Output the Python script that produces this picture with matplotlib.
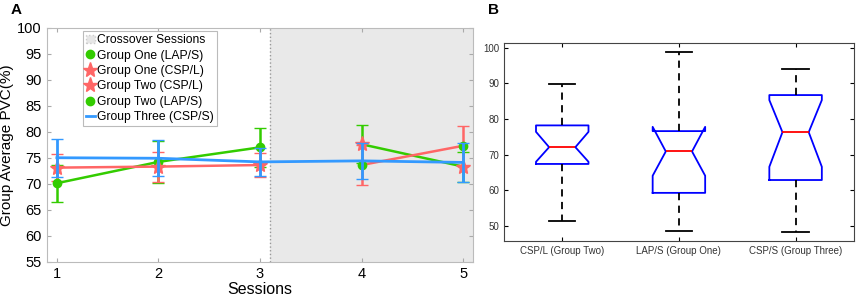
import matplotlib
matplotlib.use('Agg')
import matplotlib.pyplot as plt
from matplotlib.patches import Patch
from matplotlib.lines import Line2D

plt.rcParams['font.family'] = ['Liberation Sans', 'DejaVu Sans']

# ---- panel A data ----
sessions = [1, 2, 3, 4, 5]
pre = [1, 2, 3]
post = [4, 5]
g1_pre = [70.1, 74.2, 77.0]      # group one, LAP/S
g1_pre_err = [3.6, 4.0, 3.7]
g2_pre = [73.1, 73.3, 73.6]      # group two, CSP/L
g2_pre_err = [2.55, 2.9, 2.4]
g1_post = [77.6, 73.3]           # group one, CSP/L
g1_post_err = [3.7, 2.9]
g2_post = [73.6, 77.3]           # group two, LAP/S
g2_post_err = [3.85, 3.8]
g3 = [75.0, 74.9, 74.2, 74.4, 74.1]  # group three, CSP/S
g3_err = [3.7, 3.5, 2.7, 3.5, 3.7]
crossover_start = 3.1

# ---- panel B data ----
box_labels = ['CSP/L (Group Two)', 'LAP/S (Group One)', 'CSP/S (Group Three)']
box_med = [72.1, 70.9, 76.3]
box_q1 = [67.4, 59.3, 62.9]
box_q3 = [78.2, 76.6, 86.7]
box_lo = [51.3, 48.7, 48.2]
box_hi = [89.9, 98.7, 94.0]
box_cilo = [68.0, 64.1, 66.6]
box_cihi = [76.4, 77.8, 85.3]

green = '#33cc00'
red = '#ff6666'
blue = '#3399ff'

fig = plt.figure(figsize=(8.57, 3.02), dpi=100)

# 图A
ax = fig.add_axes([0.0545, 0.1334, 0.4977, 0.7746])
ax.axvspan(crossover_start, 5.1, facecolor='#e9e9e9', edgecolor='none', zorder=0)
ax.axvline(crossover_start, color='#999999', linestyle=':', linewidth=1, zorder=1)

ax.errorbar(pre, g1_pre, yerr=g1_pre_err, color=green, lw=1.8, capsize=4.5,
            marker='o', ms=6, mfc=green, mec=green, zorder=3)
ax.errorbar(pre, g2_pre, yerr=g2_pre_err, color=red, lw=1.8, capsize=4.5,
            marker='*', ms=11, mfc=red, mec=red, zorder=3)
ax.errorbar(post, g1_post, yerr=g1_post_err, color=green, lw=1.8, capsize=4.5,
            marker='*', ms=11, mfc=red, mec=red, zorder=3)
ax.errorbar(post, g2_post, yerr=g2_post_err, color=red, lw=1.8, capsize=4.5,
            marker='o', ms=6, mfc=green, mec=green, zorder=3)
ax.errorbar(sessions, g3, yerr=g3_err, color=blue, lw=2, capsize=4.5, zorder=4)

ax.set_xlim(0.9, 5.1)
ax.set_ylim(55, 100)
ax.set_xticks(sessions)
ax.set_yticks(range(55, 101, 5))
ax.tick_params(direction='in', length=3, color='#aaaaaa', labelsize=10.5,
               top=True, right=True)
for s in ax.spines.values():
    s.set_color('#bbbbbb')
ax.set_xlabel('Sessions', fontsize=11.5, labelpad=1)
ax.set_ylabel('Group Average PVC(%)', fontsize=11, labelpad=2)

handles = [
    Patch(facecolor='#e6e6e6', edgecolor='#cccccc', linestyle=':'),
    Line2D([], [], ls='none', marker='o', ms=6, color=green),
    Line2D([], [], ls='none', marker='*', ms=11, color=red),
    Line2D([], [], ls='none', marker='*', ms=11, color=red),
    Line2D([], [], ls='none', marker='o', ms=6, color=green),
    Line2D([], [], color=blue, lw=2),
]
names = ['Crossover Sessions', 'Group One (LAP/S)', 'Group One (CSP/L)',
         'Group Two (CSP/L)', 'Group Two (LAP/S)', 'Group Three (CSP/S)']
leg = ax.legend(handles, names, loc='upper left', bbox_to_anchor=(0.084, 0.985),
                borderaxespad=0, fontsize=8.7, handlelength=0.8, handletextpad=0.15,
                borderpad=0.25, labelspacing=0.28, fancybox=False, framealpha=1)
leg.get_frame().set_edgecolor('#bbbbbb')
leg.get_frame().set_linewidth(0.8)

# 图B
bx = fig.add_axes([0.588, 0.203, 0.4084, 0.6536])
stats = []
for i in range(3):
    stats.append({'label': box_labels[i], 'med': box_med[i], 'q1': box_q1[i],
                  'q3': box_q3[i], 'whislo': box_lo[i], 'whishi': box_hi[i],
                  'cilo': box_cilo[i], 'cihi': box_cihi[i], 'fliers': []})
bx.bxp(stats, positions=[1, 2, 3], widths=0.45, shownotches=True, showfliers=False,
       boxprops={'color': 'blue', 'linewidth': 1.3},
       medianprops={'color': 'red', 'linewidth': 1.3},
       whiskerprops={'color': 'black', 'linewidth': 1.3, 'linestyle': (0, (4, 3))},
       capprops={'color': 'black', 'linewidth': 1.3})
bx.set_xlim(0.5, 3.5)
bx.set_ylim(45.9, 101.2)
bx.set_yticks(range(50, 101, 10))
bx.tick_params(direction='in', length=3, labelsize=7, labelcolor='#333333',
               top=True, right=True)
for s in bx.spines.values():
    s.set_color('#444444')

fig.text(0.012, 0.955, 'A', fontsize=11, fontweight='bold')
fig.text(0.569, 0.955, 'B', fontsize=11, fontweight='bold')

fig.savefig('out.png', dpi=100)
